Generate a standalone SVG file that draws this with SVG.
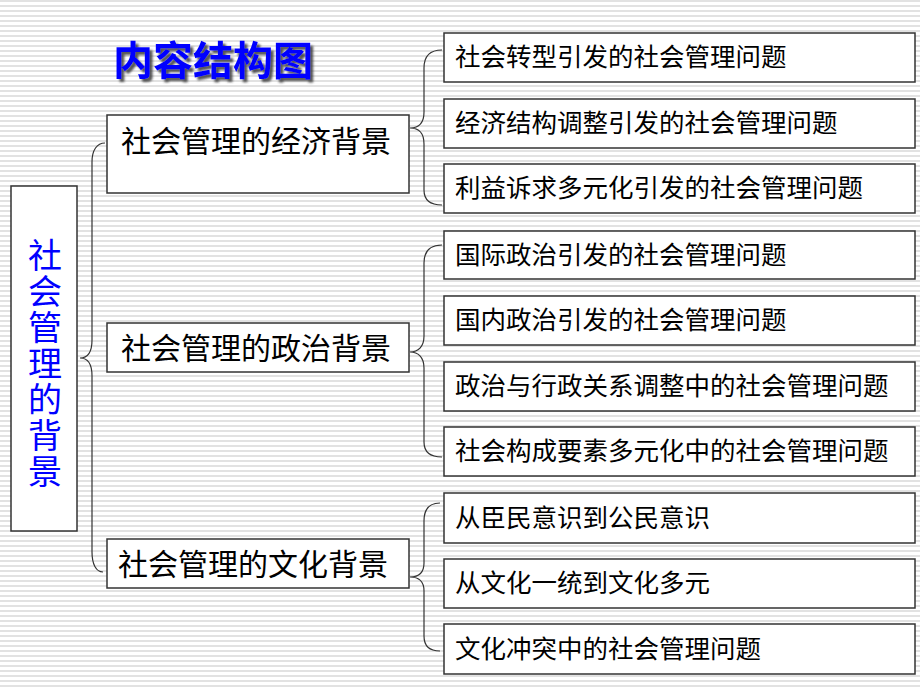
<svg xmlns="http://www.w3.org/2000/svg" width="920" height="690" viewBox="0 0 920 690">
<defs>
<pattern id="stripes" x="0" y="0" width="8" height="5" patternUnits="userSpaceOnUse">
<rect x="0" y="0" width="8" height="5" fill="#ffffff"/>
<rect x="0" y="0" width="8" height="2" fill="#e2e2e2"/>
</pattern>
<filter id="shadow" x="-10%" y="-20%" width="130%" height="150%">
<feDropShadow dx="3" dy="3" stdDeviation="1.2" flood-color="#3a3a3a" flood-opacity="0.85"/>
</filter>
</defs>
<style>
.box{fill:#ffffff;stroke:#333333;stroke-width:1.5}
.sub{font-family:"Noto Sans CJK SC","Noto Sans",sans-serif;font-size:25.5px;fill:#000000}
.main{font-family:"Noto Sans CJK SC","Noto Sans",sans-serif;font-size:30px;fill:#000000}
.vert{font-family:"Noto Sans CJK SC","Noto Sans",sans-serif;font-size:34px;fill:#0000ff;writing-mode:vertical-rl;letter-spacing:2px}
.title{font-family:"Noto Sans CJK SC","Noto Sans",sans-serif;font-size:40px;font-weight:bold;fill:#0000ff}
.brace{fill:none;stroke:#333333;stroke-width:1.2}
</style>
<rect x="0" y="0" width="920" height="690" fill="url(#stripes)"/>

<g id="title">
<text class="title" x="113" y="75" filter="url(#shadow)">内容结构图</text>
</g>

<g id="connectors">
<path class="brace" d="M105,143 C97,143 92,150 92,162 L92,340 C92,352 88,358 80,358 C88,358 92,364 92,376 L92,552 C92,564 96,572 103,572"/>
<path class="brace" d="M442,50 C430,50 424,56 424,68 L424,112 C424,124 418,128 410,128 C418,128 424,132 424,144 L424,190 C424,200 430,205 442,205"/>
<path class="brace" d="M442,245 C430,245 424,251 424,263 L424,336 C424,347 418,352 410,352 C418,352 424,357 424,368 L424,442 C424,452 430,457 442,457"/>
<path class="brace" d="M440,503 C429,503 424,509 424,521 L424,563 C424,573 418,577 410,577 C418,577 424,581 424,591 L424,636 C424,646 429,651 440,651"/>
</g>

<g id="root">
<rect class="box" x="11" y="186" width="66" height="345"/>
<text class="vert" x="45" y="238">社会管理的背景</text>
</g>

<g id="econ">
<rect class="box" x="107" y="115" width="302" height="78"/>
<text class="main" x="121" y="152">社会管理的经济背景</text>
</g>
<g id="pol">
<rect class="box" x="107" y="323" width="302" height="49"/>
<text class="main" x="121" y="359">社会管理的政治背景</text>
</g>
<g id="cult">
<rect class="box" x="107" y="539" width="302" height="49"/>
<text class="main" x="118" y="575">社会管理的文化背景</text>
</g>

<g id="e1"><rect class="box" x="444" y="33" width="471" height="49"/><text class="sub" x="455" y="66">社会转型引发的社会管理问题</text></g>
<g id="e2"><rect class="box" x="444" y="99" width="471" height="49"/><text class="sub" x="455" y="132">经济结构调整引发的社会管理问题</text></g>
<g id="e3"><rect class="box" x="444" y="164" width="471" height="49"/><text class="sub" x="455" y="197">利益诉求多元化引发的社会管理问题</text></g>

<g id="p1"><rect class="box" x="444" y="231" width="471" height="48"/><text class="sub" x="455" y="264">国际政治引发的社会管理问题</text></g>
<g id="p2"><rect class="box" x="444" y="296" width="471" height="49"/><text class="sub" x="455" y="329">国内政治引发的社会管理问题</text></g>
<g id="p3"><rect class="box" x="444" y="362" width="471" height="49"/><text class="sub" x="455" y="395">政治与行政关系调整中的社会管理问题</text></g>
<g id="p4"><rect class="box" x="444" y="427" width="471" height="49"/><text class="sub" x="455" y="460">社会构成要素多元化中的社会管理问题</text></g>

<g id="c1"><rect class="box" x="444" y="493" width="471" height="50"/><text class="sub" x="455" y="527">从臣民意识到公民意识</text></g>
<g id="c2"><rect class="box" x="444" y="559" width="471" height="49"/><text class="sub" x="455" y="592">从文化一统到文化多元</text></g>
<g id="c3"><rect class="box" x="444" y="624" width="471" height="50"/><text class="sub" x="455" y="658">文化冲突中的社会管理问题</text></g>
</svg>
